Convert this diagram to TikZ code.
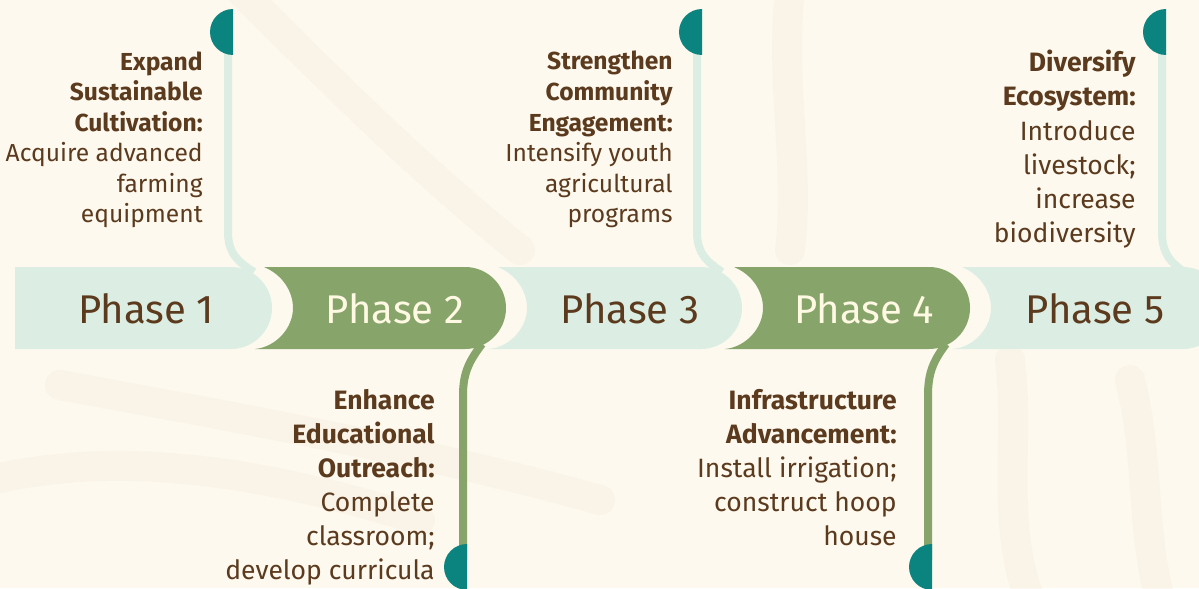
\documentclass[tikz,border=0pt]{standalone}
\usepackage{fontspec}
\setmainfont{Fira Sans}
\usetikzlibrary{calc}
\definecolor{cream}{HTML}{FDF9EE}
\definecolor{mint}{HTML}{DCEEE3}
\definecolor{leaf}{HTML}{87A46A}
\definecolor{tipteal}{HTML}{0B8480}
\definecolor{bark}{HTML}{5B3A1E}
\definecolor{paleleaf}{HTML}{FFF9E3}
\definecolor{brushtone}{HTML}{F6EDDD}
\tikzset{
	brush/.style={line width=0.6cm, color=brushtone, line cap=round, opacity=0.35},
	linkline/.style={line width=0.16cm},
	phaselabel/.style={font=\fontsize{22.8}{26}\selectfont, inner sep=0},
	notesmall/.style={font=\fontsize{14}{17.4}\selectfont, color=bark, align=right, inner sep=0, anchor=north east},
	notebig/.style={font=\fontsize{15.1}{19.4}\selectfont, color=bark, align=right, inner sep=0, anchor=north east}
}
% band with a hollow left end that fits the cap before it
\def\phaseband[#1](#2:#3){\fill[#1] (#2+33,267) -- (#3,267) arc (-90:90:41) -- (#2+24,349) .. controls (#2+45,347) and (#2+62,328) .. (#2+62,308) .. controls (#2+62,292) and (#2+52,275) .. (#2+33,267) -- cycle;}
% half disc at the loose end of a link
\def\tipdisc(#1:#2){\fill[tipteal] (#1,#2-23) arc (-90:-270:23) -- cycle;}

\begin{document}
\begin{tikzpicture}[x=0.02cm, y=-0.02cm]
		%%%%% START %%%%%
		\clip (0,0) rectangle (1199,588);
		\fill[cream] (0,0) rectangle (1199,588);
		
		\draw[brush] (240,-10) .. controls (330,80) and (420,170) .. (520,250);
		\draw[brush] (-10,480) .. controls (120,450) and (260,470) .. (420,520);
		\draw[brush] (60,385) .. controls (250,420) and (420,450) .. (600,500);
		\draw[brush] (790,-10) .. controls (780,80) and (800,170) .. (790,250);
		\draw[brush] (1010,360) .. controls (1020,440) and (1000,520) .. (1030,600);
		\draw[brush] (1130,380) .. controls (1150,460) and (1140,520) .. (1160,600);
		
		% phase bands
		\fill[mint] (15,267) -- (231,267) arc (-90:90:41) -- (15,349) -- cycle;
		\phaseband[leaf](231:465)
		\phaseband[mint](465:701)
		\phaseband[leaf](701:929)
		\phaseband[mint](929:1183)
		
		% links up and down
		\draw[linkline, mint] (228,40) -- (228,232) .. controls (228,255) and (240,263) .. (254,272);
		\draw[linkline, leaf] (482,344) .. controls (470,360) and (463,372) .. (463,395) -- (463,560);
		\draw[linkline, mint] (697,40) -- (697,232) .. controls (697,255) and (709,263) .. (722,272);
		\draw[linkline, leaf] (946,344) .. controls (934,360) and (928,372) .. (928,395) -- (928,560);
		\draw[linkline, mint] (1162,40) -- (1162,232) .. controls (1162,255) and (1172,263) .. (1184,272);
		
		\tipdisc(233:32)
		\tipdisc(467:567)
		\tipdisc(702:32)
		\tipdisc(932:567)
		\tipdisc(1166:32)
		
		% labels
		\node[phaselabel, color=bark] (p1) at (146,309) {Phase 1};
		\node[phaselabel, color=paleleaf] (p2) at (395,309) {Phase 2};
		\node[phaselabel, color=bark] (p3) at (630,309) {Phase 3};
		\node[phaselabel, color=paleleaf] (p4) at (864,309) {Phase 4};
		\node[phaselabel, color=bark] (p5) at (1095,309) {Phase 5};
		
		\node[notesmall] (n1) at (203,51) {\textbf{Expand}\\\textbf{Sustainable}\\\textbf{Cultivation:}\\Acquire advanced\\farming\\equipment};
		\node[notebig] (n2) at (435,389) {\textbf{Enhance}\\\textbf{Educational}\\\textbf{Outreach:}\\Complete\\classroom;\\develop curricula};
		\node[notesmall] (n3) at (673,51) {\textbf{Strengthen}\\\textbf{Community}\\\textbf{Engagement:}\\Intensify youth\\agricultural\\programs};
		\node[notebig] (n4) at (897,389) {\textbf{Infrastructure}\\\textbf{Advancement:}\\Install irrigation;\\construct hoop\\house};
		\node[notebig] (n5) at (1136,50) {\textbf{Diversify}\\\textbf{Ecosystem:}\\Introduce\\livestock;\\increase\\biodiversity};
		%%%%% END %%%%%
\end{tikzpicture}
\end{document}
